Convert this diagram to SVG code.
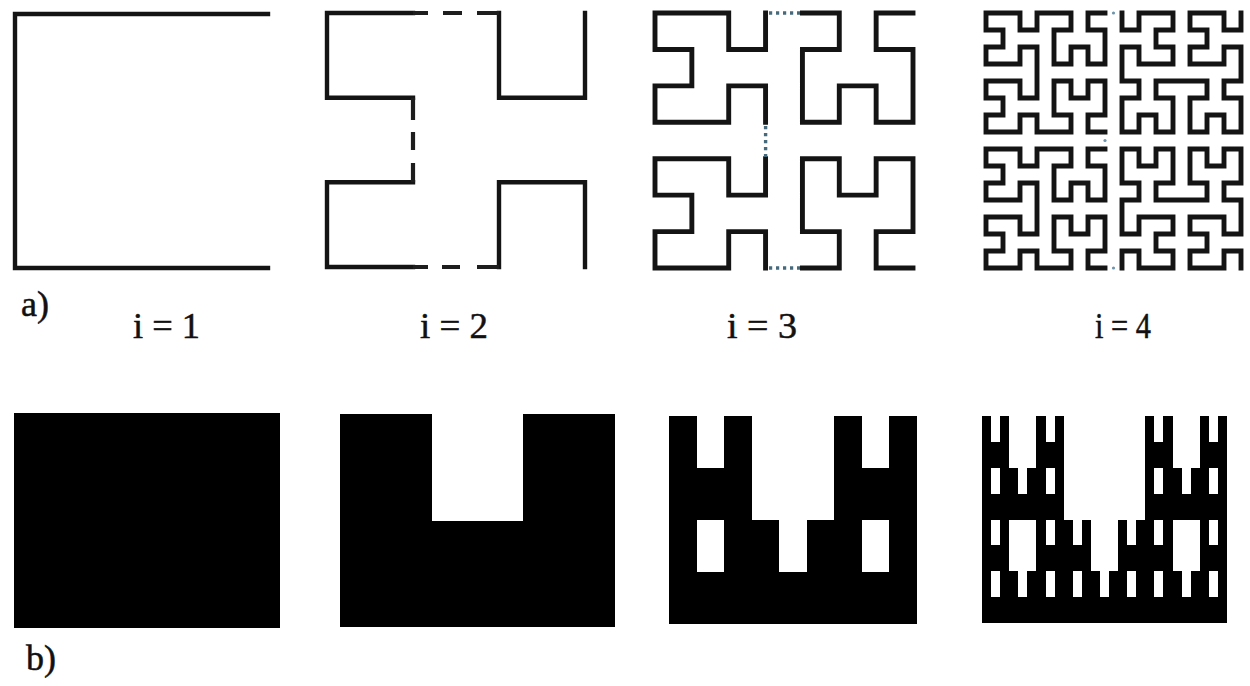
<svg xmlns="http://www.w3.org/2000/svg" width="1250" height="686" viewBox="0 0 1250 686">
<style>
.curve{fill:none;stroke:#141414;stroke-width:4.4;stroke-linecap:square;stroke-linejoin:miter}
.thick{stroke-width:4.9}
.conn{fill:none;stroke:#1e1e1e;stroke-width:4.2;stroke-linecap:butt}
.dot{fill:none;stroke:#46697c;stroke-width:3.4;stroke-dasharray:3.2 3.8}
.tiny{fill:#6d95ad}
.lbl{font-family:'Liberation Serif','Times New Roman',serif;font-size:36px;fill:#111;stroke:#111;stroke-width:0.5}
.hole{fill:#fff;shape-rendering:crispEdges}
.solid{fill:#000;shape-rendering:crispEdges}
</style>
<defs>
<rect id="h2" x="0.3333333" y="0" width="0.3333333" height="0.5"/>
<g id="h3">
<use href="#h2"/>
<use href="#h2" transform="scale(0.3333333,0.5)"/>
<use href="#h2" transform="translate(0,0.5) scale(0.3333333,0.5)"/>
<use href="#h2" transform="translate(0.3333333,0.5) scale(0.3333333,0.5)"/>
<use href="#h2" transform="translate(0.6666667,0) scale(0.3333333,0.5)"/>
<use href="#h2" transform="translate(0.6666667,0.5) scale(0.3333333,0.5)"/>
</g>
<g id="h4">
<use href="#h2"/>
<use href="#h3" transform="scale(0.3333333,0.5)"/>
<use href="#h3" transform="translate(0,0.5) scale(0.3333333,0.5)"/>
<use href="#h3" transform="translate(0.3333333,0.5) scale(0.3333333,0.5)"/>
<use href="#h3" transform="translate(0.6666667,0) scale(0.3333333,0.5)"/>
<use href="#h3" transform="translate(0.6666667,0.5) scale(0.3333333,0.5)"/>
</g>
</defs>
<rect width="1250" height="686" fill="#fff"/>

<g id="curve-i1">
<path class="curve" d="M268,14 H15 V268 H268"/>
</g>

<g id="curve-i2">
<path class="curve" d="M585,13 V97.7 H499 V13"/>
<path class="curve" d="M413,13 H327 V97.7 H413"/>
<path class="curve" d="M413,182.3 H327 V267 H413"/>
<path class="curve" d="M499,267 V182.3 H585 V267"/>
<g id="connectors-i2">
<path class="conn" d="M413,13 H428 M443,13 H462 M477,13 H499"/>
<path class="conn" d="M413,97.7 V120 M413,132 V150 M413,163 V182.3"/>
<path class="conn" d="M413,267 H428 M442,267 H460 M477,267 H499"/>
</g>
</g>

<g id="curve-i3">
<g transform="translate(655,13) scale(36.857,36.43)">
<path class="curve thick" vector-effect="non-scaling-stroke" d="M7,0 h-1 v1 h1 v2 h-1 v-1 h-1 v1 h-1 v-2 h1 v-1 h-1"/>
<path class="curve thick" vector-effect="non-scaling-stroke" d="M3,0 v1 h-1 v-1 h-2 v1 h1 v1 h-1 v1 h2 v-1 h1 v1"/>
<path class="curve thick" vector-effect="non-scaling-stroke" d="M3,4 v1 h-1 v-1 h-2 v1 h1 v1 h-1 v1 h2 v-1 h1 v1"/>
<path class="curve thick" vector-effect="non-scaling-stroke" d="M4,7 h1 v-1 h-1 v-2 h1 v1 h1 v-1 h1 v2 h-1 v1 h1"/>
</g>
<g id="connectors-i3">
<path class="dot" d="M769,13 H800"/>
<path class="dot" d="M765.6,126 V157"/>
<path class="dot" d="M769,268 H800"/>
</g>
</g>

<g id="curve-i4">
<g transform="translate(986,13) scale(17,17)">
<path class="curve thick" vector-effect="non-scaling-stroke" d="M15,0 v1 h-1 v-1 h-2 v1 h1 v1 h-1 v1 h2 v-1 h1 v2 h-1 v1 h1 v2 h-1 v-1 h-1 v1 h-1 v-2 h1 v-1 h-3 v1 h1 v2 h-1 v-1 h-1 v1 h-1 v-2 h1 v-1 h-1 v-2 h1 v1 h2 v-1 h-1 v-1 h1 v-1 h-2 v1 h-1 v-1"/>
<path class="curve thick" vector-effect="non-scaling-stroke" d="M7,0 h-1 v1 h1 v2 h-1 v-1 h-1 v1 h-1 v-2 h1 v-1 h-2 v1 h-1 v-1 h-2 v1 h1 v1 h-1 v1 h2 v-1 h1 v3 h-1 v-1 h-2 v1 h1 v1 h-1 v1 h2 v-1 h1 v1 h2 v-1 h-1 v-2 h1 v1 h1 v-1 h1 v2 h-1 v1 h1"/>
<path class="curve thick" vector-effect="non-scaling-stroke" d="M7,8 h-1 v1 h1 v2 h-1 v-1 h-1 v1 h-1 v-2 h1 v-1 h-2 v1 h-1 v-1 h-2 v1 h1 v1 h-1 v1 h2 v-1 h1 v3 h-1 v-1 h-2 v1 h1 v1 h-1 v1 h2 v-1 h1 v1 h2 v-1 h-1 v-2 h1 v1 h1 v-1 h1 v2 h-1 v1 h1"/>
<path class="curve thick" vector-effect="non-scaling-stroke" d="M8,15 v-1 h1 v1 h2 v-1 h-1 v-1 h1 v-1 h-2 v1 h-1 v-2 h1 v-1 h-1 v-2 h1 v1 h1 v-1 h1 v2 h-1 v1 h3 v-1 h-1 v-2 h1 v1 h1 v-1 h1 v2 h-1 v1 h1 v2 h-1 v-1 h-2 v1 h1 v1 h-1 v1 h2 v-1 h1 v1"/>
</g>
<g id="connectors-i4">
<circle class="tiny" cx="1113.5" cy="13" r="1.6"/>
<circle class="tiny" cx="1105" cy="140.5" r="1.6"/>
<circle class="tiny" cx="1113.5" cy="268" r="1.6"/>
</g>
</g>

<g id="labels-a">
<text class="lbl" x="21" y="316">a)</text>
<text class="lbl" x="133" y="338" textLength="67" lengthAdjust="spacingAndGlyphs">i = 1</text>
<text class="lbl" x="420" y="338" textLength="68" lengthAdjust="spacingAndGlyphs">i = 2</text>
<text class="lbl" x="727" y="338" textLength="70" lengthAdjust="spacingAndGlyphs">i = 3</text>
<text class="lbl" x="1095" y="338" textLength="56" lengthAdjust="spacingAndGlyphs">i = 4</text>
</g>

<g id="shape-i1">
<rect class="solid" x="14" y="413" width="266" height="215"/>
</g>
<g id="shape-i2">
<rect class="solid" x="340" y="414" width="275" height="213"/>
<use href="#h2" class="hole" transform="translate(340,414) scale(275,213)"/>
</g>
<g id="shape-i3">
<rect class="solid" x="669" y="416" width="248" height="208"/>
<use href="#h3" class="hole" transform="translate(669,416) scale(248,208)"/>
</g>
<g id="shape-i4">
<rect class="solid" x="982" y="416" width="245" height="207"/>
<use href="#h4" class="hole" transform="translate(982,416) scale(245,207)"/>
</g>

<g id="labels-b">
<text class="lbl" x="26" y="670">b)</text>
</g>
</svg>
